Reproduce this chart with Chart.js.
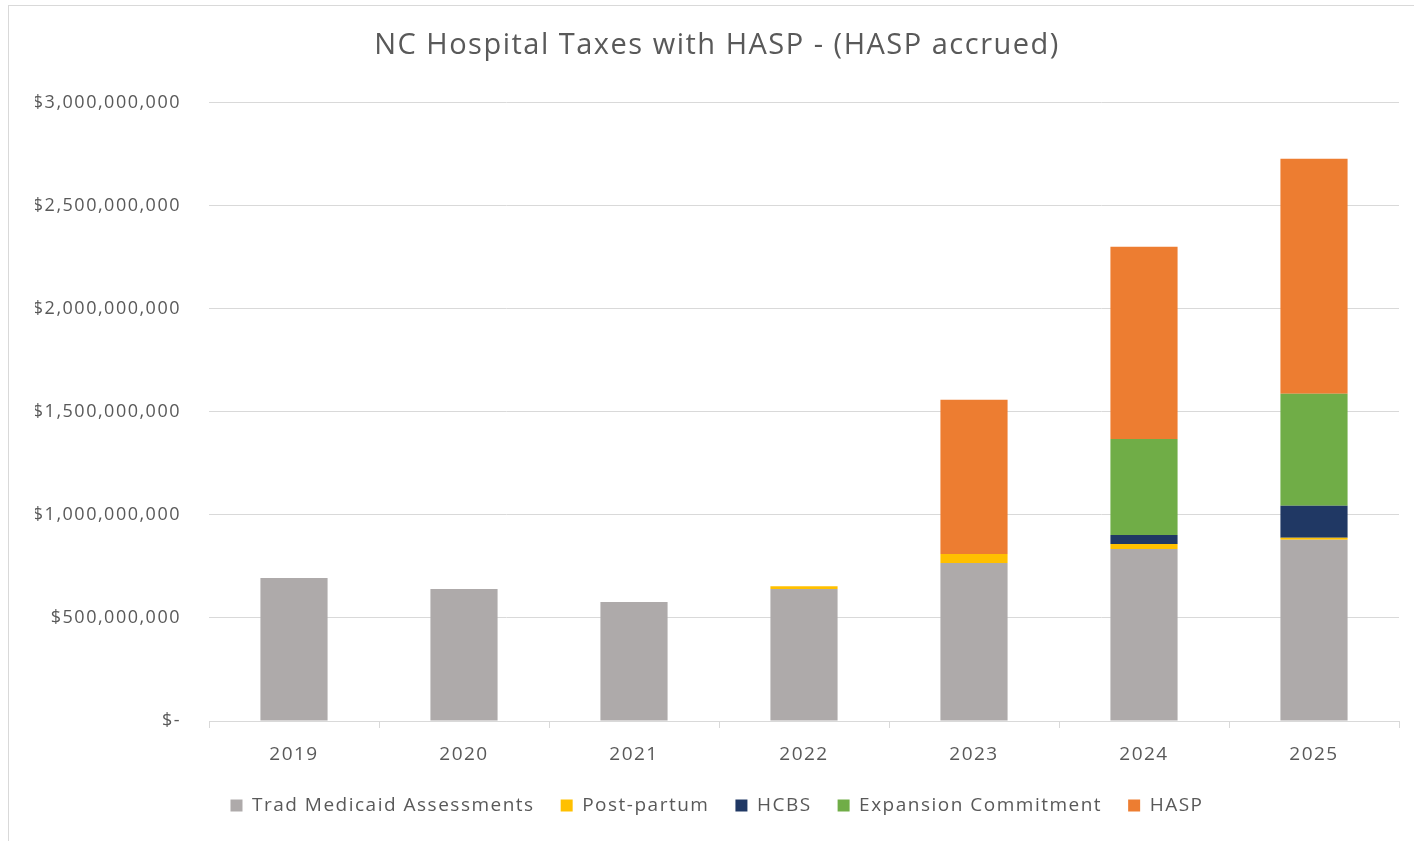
<!DOCTYPE html>
<html>
<head>
<meta charset="utf-8">
<title>NC Hospital Taxes with HASP</title>
<script src="https://cdn.jsdelivr.net/npm/chart.js@4"></script>
<style>
    html, body { margin: 0; padding: 0; background: #fff; overflow: hidden; }
    #wrap { position: relative; width: 1414px; height: 841px; }
    #frame { position: absolute; left: 8px; top: 5px; width: 1420px; height: 850px; border: 1px solid #d9d9d9; }
    canvas { position: absolute; left: 0; top: 0; }
</style>
</head>
<body>
<div id="wrap">
    <div id="frame"></div>
    <canvas id="taxChart" width="1414" height="841"></canvas>
</div>
<script>
// --- Data ---
const years = ['2019', '2020', '2021', '2022', '2023', '2024', '2025'];
const tradMedicaid = [694000000, 641000000, 578000000, 641000000, 767000000, 835000000, 879000000];
const postPartum   = [0, 0, 0, 13000000, 44000000, 24000000, 10000000];
const hcbs         = [0, 0, 0, 0, 0, 44000000, 155000000];
const expansion    = [0, 0, 0, 0, 0, 466000000, 544000000];
const hasp         = [0, 0, 0, 0, 748000000, 932000000, 1141000000];

const textColor = '#595959';
const gridColor = '#d9d9d9';
const fontFamily = "'Open Sans', 'Noto Sans', sans-serif";

// Excel-style wide letter spacing on canvas text
const spacingPlugin = {
    id: 'letterSpacing',
    beforeLayout(chart) { chart.ctx.letterSpacing = '1.5px'; },
    beforeDraw(chart) { chart.ctx.letterSpacing = '1.5px'; }
};

function formatDollars(value) {
    if (value === 0) return '$-';
    return '$' + value.toLocaleString('en-US');
}

const ctx = document.getElementById('taxChart').getContext('2d');
new Chart(ctx, {
    type: 'bar',
    data: {
        labels: years,
        datasets: [
            { label: 'Trad Medicaid Assessments', data: tradMedicaid, backgroundColor: '#aeaaaa' },
            { label: 'Post-partum', data: postPartum, backgroundColor: '#ffc000' },
            { label: 'HCBS', data: hcbs, backgroundColor: '#203864' },
            { label: 'Expansion Commitment', data: expansion, backgroundColor: '#70ad47' },
            { label: 'HASP', data: hasp, backgroundColor: '#ed7d31' }
        ]
    },
    options: {
        responsive: false,
        animation: false,
        barPercentage: 0.395,
        categoryPercentage: 1,
        // left padding + y axis width put the plot edge at x=209
        layout: { padding: { left: 35, right: 15, top: 0, bottom: 16 } },
        scales: {
            x: {
                stacked: true,
                border: { display: true, color: gridColor, width: 1 },
                grid: { drawOnChartArea: false, drawTicks: true, tickLength: 7, color: gridColor, offset: true },
                ticks: { color: textColor, font: { family: fontFamily, size: 19 }, padding: 15 },
                afterFit(scale) { scale.height = 49; }
            },
            y: {
                stacked: true,
                min: 0,
                max: 3000000000,
                border: { display: false },
                grid: { color: gridColor, drawTicks: false },
                ticks: {
                    stepSize: 500000000,
                    color: textColor,
                    font: { family: fontFamily, size: 18 },
                    padding: 28,
                    callback: formatDollars
                },
                afterFit(scale) { scale.width = 174; }
            }
        },
        plugins: {
            title: {
                display: true,
                text: 'NC Hospital Taxes with HASP - (HASP accrued)',
                color: textColor,
                font: { family: fontFamily, size: 29, weight: 'normal' },
                padding: { top: 28, bottom: 40 }
            },
            legend: {
                position: 'bottom',
                labels: {
                    color: textColor,
                    font: { family: fontFamily, size: 19 },
                    boxWidth: 12,
                    boxHeight: 12,
                    padding: 26
                }
            },
            tooltip: { enabled: false }
        }
    },
    plugins: [spacingPlugin]
});
</script>
</body>
</html>
